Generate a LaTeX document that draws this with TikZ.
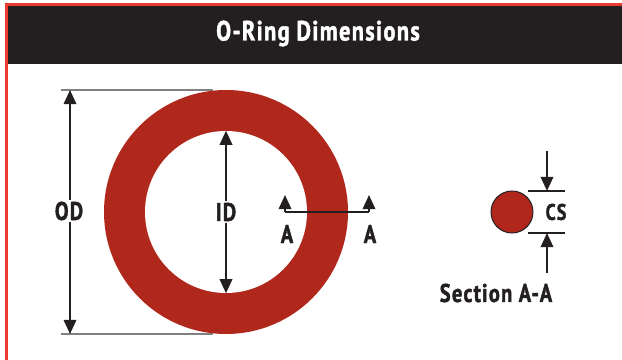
\documentclass[tikz,border=0pt]{standalone}
\usepackage{fontspec}
\setmainfont[FakeStretch=0.8,LetterSpace=5,BoldFeatures={FakeBold=1.6}]{PT Sans}
\usepackage{xcolor}
\usetikzlibrary{arrows.meta,positioning}
\definecolor{ringred}{HTML}{B0271C}
\definecolor{edgered}{HTML}{EE3B2F}
\definecolor{inkblack}{HTML}{231F20}
\tikzset{>={Stealth[length=10pt,width=8.8pt,inset=0pt]}}
\tikzset{
  dimline/.style={->,line width=1.6pt,draw=inkblack},
  extline/.style={line width=0.9pt,draw=#1},
  extline/.default=inkblack,
  dimlabel/.style={font=\bfseries\fontsize{18.2}{18.2}\selectfont,text=inkblack,inner sep=1pt}
}

\begin{document}
\begin{tikzpicture}[x=0.25mm,y=-0.25mm]
  \useasboundingbox (0,0) rectangle (622,360);

  % Frame and header
  \fill[edgered] (5,3) rectangle (622,360);
  \fill[white] (8,6) rectangle (622,360);
  \node[fill=inkblack,minimum width=614*0.25mm,minimum height=58*0.25mm,inner sep=0pt] (header) at (315,35) {};
  \node[text=white,font=\bfseries\fontsize{19.8}{20}\selectfont] (title) at (318,33.5) {O-Ring Dimensions};

  % Ring
  \node[circle,fill=ringred,inner sep=0pt,minimum size=244*0.25mm] (outer) at (226,212) {};
  \node[circle,fill=white,inner sep=0pt,minimum size=162*0.25mm] (inner) at (226,212) {};

  % OD
  \coordinate (odtop) at (70,90);
  \coordinate (odbot) at (70,334);
  \coordinate (odtopr) at (213,90);
  \coordinate (odbotr) at (213,334);
  \draw[extline=gray] (61,90) -- (odtopr);
  \draw[extline=gray] (61,334) -- (odbotr);
  \draw[dimline] (70,205) -- (odtop);
  \draw[dimline] (70,219) -- (odbot);
  \node[dimlabel,fill=white] (od) at (69,211) {OD};

  % ID
  \draw[dimline] (inner.center) -- (inner.north);
  \draw[dimline] (inner.center) -- (inner.south);
  \node[dimlabel,fill=white] (id) at (226,212) {ID};

  % Section marks
  \coordinate (aleft) at (285,212);
  \coordinate (aright) at (369,212);
  \coordinate (alefttip) at (285,195);
  \coordinate (arighttip) at (369,195);
  \draw[dimline] (aleft) -- (alefttip);
  \draw[dimline] (aright) -- (arighttip);
  \draw[line width=1.6pt,draw=inkblack] (aleft) -- (aright);
  \node[dimlabel] (aa) at (287,234) {A};
  \node[dimlabel] (ab) at (370,234) {A};

  % Cross section
  \node[circle,fill=ringred,draw=inkblack,line width=0.7pt,inner sep=0pt,minimum size=42*0.25mm] (section) at (512,212) {};
  \coordinate (cstop) at (547,191);
  \coordinate (csbot) at (547,233);
  \coordinate (cstopfar) at (547,151);
  \coordinate (csbotfar) at (547,273);
  \draw[extline] (528,191) -- (565,191);
  \draw[extline] (528,233) -- (565,233);
  \draw[dimline] (cstopfar) -- (cstop);
  \draw[dimline] (csbotfar) -- (csbot);
  \node[dimlabel,font=\bfseries\fontsize{16}{16}\selectfont] (cs) at (556,212) {CS};
  \node[dimlabel] (seclabel) at (496,293) {Section A-A};
\end{tikzpicture}
\end{document}
